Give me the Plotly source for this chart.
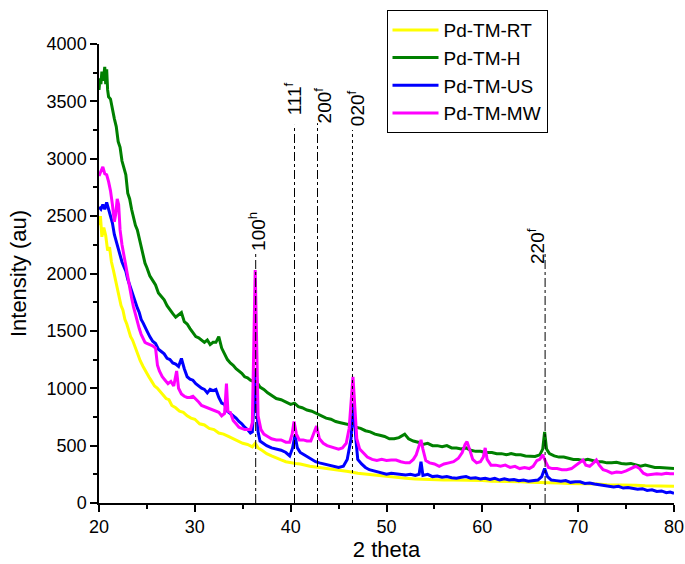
import plotly.graph_objects as go

# ---------------- data ----------------
rt_x = [20.0, 20.15, 20.3, 20.5, 20.7, 20.9, 21.1, 21.3, 21.5, 21.7, 21.9, 22.1, 22.3, 22.5, 22.7, 22.9,
        23.1, 23.3, 23.5, 23.7, 23.9, 24.1, 24.3, 24.6, 24.9, 25.2, 25.5, 25.8, 26.1, 26.4, 26.7, 27.0,
        27.3, 27.6, 28.0, 28.4, 28.8, 29.2, 29.6, 30.0, 30.5, 31.0, 31.5, 32.0, 32.5, 33.0, 33.5, 34.0,
        34.5, 35.0, 35.5, 36.0, 36.3, 36.6, 37.0, 37.5, 38.0, 38.5, 39.0, 39.5, 40.0, 40.5, 41.0, 41.5,
        42.0, 43.0, 44.0, 45.0, 46.0, 47.0, 48.0, 49.0, 50.0, 51.0, 52.0, 53.0, 54.0, 55.0, 56.0, 57.0,
        58.0, 59.0, 60.0, 61.0, 62.0, 63.0, 64.0, 65.0, 66.0, 67.0, 68.0, 69.0, 70.0, 71.0, 72.0, 73.0,
        74.0, 75.0, 76.0, 77.0, 78.0, 79.0, 80.0]
rt_y = [2420, 2500, 2320, 2400, 2330, 2200, 2230, 2100, 2030, 1950, 1870, 1800, 1720, 1680, 1600, 1560,
        1500, 1450, 1420, 1370, 1320, 1280, 1240, 1190, 1140, 1100, 1060, 1020, 1000, 970, 940, 910,
        900, 850, 830, 800, 790, 760, 740, 730, 690, 680, 650, 640, 610, 600, 580, 560,
        540, 520, 510, 490, 520, 480, 460, 430, 410, 390, 375, 360, 350, 345, 340, 330,
        320, 310, 300, 285, 275, 260, 250, 240, 230, 220, 215, 210, 205, 205, 200, 200,
        200, 195, 195, 190, 190, 185, 185, 180, 180, 175, 175, 170, 170, 165, 165, 160,
        160, 155, 155, 150, 150, 145, 145]

h_x = [20.0, 20.1, 20.2, 20.3, 20.45, 20.6, 20.7, 20.8, 20.9, 21.0, 21.2, 21.4, 21.6, 21.8, 22.0, 22.2,
       22.4, 22.6, 22.8, 23.0, 23.2, 23.4, 23.6, 23.8, 24.0, 24.2, 24.4, 24.6, 24.8, 25.0, 25.3, 25.6,
       25.9, 26.2, 26.5, 26.8, 27.1, 27.4, 27.7, 28.0, 28.3, 28.6, 28.9, 29.2, 29.5, 29.8, 30.1, 30.4,
       30.7, 31.0, 31.3, 31.6, 31.9, 32.2, 32.5, 32.8, 33.1, 33.4, 33.7, 34.0, 34.3, 34.6, 34.9, 35.2,
       35.5, 35.8, 36.1, 36.3, 36.5, 36.8, 37.2, 37.6, 38.0, 38.5, 39.0, 39.5, 40.0, 40.4, 40.8, 41.2,
       41.7, 42.2, 42.7, 43.2, 43.7, 44.2, 44.7, 45.2, 45.7, 46.2, 46.5, 46.8, 47.3, 47.8, 48.3, 48.8,
       49.3, 49.8, 50.3, 50.8, 51.3, 51.9, 52.3, 52.8, 53.3, 53.8, 54.3, 54.8, 55.3, 55.8, 56.3, 56.8,
       57.3, 57.8, 58.3, 58.8, 59.3, 59.8, 60.3, 61.0, 61.5, 62.0, 62.5, 63.0, 63.5, 64.0, 64.5, 65.0,
       65.5, 66.0, 66.3, 66.5, 66.7, 67.0, 67.5, 68.0, 68.5, 69.0, 69.5, 70.0, 70.5, 71.0, 71.5, 72.0,
       72.5, 73.0, 73.5, 74.0, 74.5, 75.0, 75.5, 76.0, 76.5, 77.0, 77.5, 78.0, 78.5, 79.0, 79.5, 80.0]
h_y = [3600, 3700, 3650, 3760, 3680, 3800, 3650, 3780, 3600, 3540, 3520, 3420, 3350, 3280, 3150, 3100,
       2980, 2920, 2860, 2700, 2650, 2560, 2480, 2420, 2380, 2300, 2240, 2160, 2090, 2050, 1980, 1940,
       1900, 1830, 1800, 1770, 1720, 1680, 1650, 1620, 1640, 1660, 1580, 1560, 1520, 1490, 1450, 1440,
       1420, 1400, 1420, 1380, 1400, 1400, 1450, 1350, 1300, 1250, 1220, 1200, 1170, 1150, 1130, 1100,
       1090, 1070, 1060, 1170, 1050, 1010, 990, 960, 940, 910, 900, 880, 860, 870, 840, 830,
       810, 800, 780, 760, 740, 730, 710, 700, 690, 680, 700, 660, 650, 630, 620, 600,
       590, 580, 560, 560, 570, 600, 560, 540, 530, 510, 520, 500, 500, 490, 500, 480,
       480, 470, 480, 460, 450, 450, 440, 440, 430, 430, 420, 430, 420, 420, 410, 410,
       405, 420, 470, 620, 470, 430, 410, 400, 400, 390, 380, 380, 370, 380, 370, 360,
       360, 350, 350, 355, 345, 340, 345, 330, 320, 330, 320, 310, 310, 305, 300, 300]

us_x = [20.0, 20.2, 20.4, 20.6, 20.8, 21.0, 21.2, 21.4, 21.6, 21.8, 22.0, 22.2, 22.4, 22.6, 22.8, 23.0,
        23.2, 23.4, 23.6, 23.8, 24.0, 24.2, 24.4, 24.6, 24.8, 25.0, 25.3, 25.6, 25.9, 26.2, 26.5, 26.8,
        27.1, 27.4, 27.7, 28.0, 28.3, 28.6, 28.9, 29.2, 29.5, 29.8, 30.1, 30.4, 30.7, 31.0, 31.3, 31.6,
        31.9, 32.2, 32.5, 32.8, 33.1, 33.4, 33.7, 34.0, 34.3, 34.6, 34.9, 35.2, 35.5, 35.8, 36.0, 36.15,
        36.3, 36.45, 36.6, 36.8, 37.1, 37.5, 38.0, 38.5, 39.0, 39.5, 39.9, 40.2, 40.45, 40.7, 41.0, 41.4,
        41.8, 42.2, 42.6, 43.0, 43.5, 44.0, 44.5, 45.0, 45.5, 45.9, 46.3, 46.55, 46.8, 47.0, 47.4, 47.8,
        48.2, 48.6, 49.0, 49.5, 50.0, 50.5, 51.0, 51.5, 52.0, 52.5, 53.0, 53.4, 53.6, 53.8, 54.3, 54.8,
        55.3, 55.8, 56.3, 56.8, 57.3, 57.8, 58.3, 58.8, 59.3, 59.8, 60.3, 60.8, 61.3, 61.8, 62.3, 62.8,
        63.3, 63.8, 64.3, 64.8, 65.3, 65.8, 66.2, 66.5, 66.8, 67.2, 67.7, 68.2, 68.7, 69.2, 69.7, 70.2,
        70.7, 71.2, 71.7, 72.2, 72.7, 73.2, 73.7, 74.2, 74.7, 75.2, 75.7, 76.2, 76.7, 77.2, 77.7, 78.2,
        78.7, 79.2, 79.6, 80.0]
us_y = [2580, 2560, 2600, 2560, 2620, 2560, 2500, 2440, 2340, 2280, 2220, 2150, 2100, 2060, 2020, 1950,
        1900, 1840, 1780, 1740, 1700, 1660, 1600, 1570, 1540, 1500, 1450, 1410, 1390, 1340, 1320, 1300,
        1260, 1250, 1220, 1210, 1190, 1260, 1170, 1100, 1080, 1070, 1040, 1020, 1000, 990, 960, 990,
        980, 990, 920, 870, 860, 800, 780, 760, 740, 710, 690, 660, 640, 610, 620, 850,
        1150, 900, 620, 540, 520, 500, 480, 470, 460, 440, 410, 480, 590, 480, 440, 420,
        400, 380, 360, 350, 340, 330, 320, 310, 320, 380, 560, 870, 560, 380, 340, 310,
        290, 280, 270, 260, 250, 260, 255, 250, 245, 250, 240, 250, 360, 240, 250, 230,
        235, 225, 230, 220, 215, 225, 230, 215, 220, 210, 215, 205, 215, 200, 210, 200,
        205, 195, 200, 190, 195, 200, 230, 300, 230, 200, 195, 190, 195, 180, 185, 185,
        170, 175, 165, 160, 155, 150, 140, 145, 130, 135, 125, 120, 125, 110, 115, 100,
        105, 90, 95, 85]

mw_x = [20.0, 20.2, 20.4, 20.6, 20.8, 21.0, 21.2, 21.4, 21.6, 21.75, 21.9, 22.05, 22.2, 22.4, 22.6, 22.8,
        23.0, 23.2, 23.4, 23.6, 23.8, 24.0, 24.2, 24.4, 24.6, 24.8, 25.0, 25.3, 25.6, 25.9, 26.1, 26.3,
        26.6, 26.9, 27.2, 27.5, 27.8, 28.1, 28.3, 28.6, 28.9, 29.2, 29.5, 29.8, 30.1, 30.4, 30.7, 31.0,
        31.3, 31.6, 31.9, 32.2, 32.5, 32.8, 33.1, 33.3, 33.45, 33.7, 34.0, 34.3, 34.6, 34.9, 35.2, 35.5,
        35.8, 36.0, 36.15, 36.3, 36.45, 36.6, 36.9, 37.2, 37.6, 38.0, 38.5, 39.0, 39.5, 39.9, 40.15, 40.35,
        40.6, 40.9, 41.3, 41.7, 42.1, 42.4, 42.7, 43.0, 43.4, 43.8, 44.2, 44.6, 45.0, 45.4, 45.8, 46.1,
        46.35, 46.5, 46.65, 46.9, 47.2, 47.6, 48.0, 48.5, 49.0, 49.5, 50.0, 50.5, 51.0, 51.5, 52.0, 52.4,
        52.8, 53.1, 53.4, 53.6, 53.8, 54.1, 54.5, 55.0, 55.5, 56.0, 56.5, 57.0, 57.5, 57.9, 58.2, 58.4,
        58.7, 59.0, 59.4, 59.8, 60.1, 60.3, 60.5, 60.9, 61.4, 61.9, 62.4, 62.9, 63.4, 63.9, 64.4, 64.9,
        65.3, 65.7, 66.0, 66.3, 66.6, 66.9, 67.3, 67.8, 68.3, 68.8, 69.3, 69.8, 70.2, 70.5, 70.8, 71.2,
        71.6, 71.9, 72.2, 72.6, 73.0, 73.5, 74.0, 74.5, 75.0, 75.5, 76.0, 76.4, 76.8, 77.2, 77.7, 78.2,
        78.7, 79.2, 79.6, 80.0]
mw_y = [2850, 2900, 2930, 2870, 2860, 2800, 2720, 2600, 2450, 2520, 2650, 2600, 2380, 2250, 2150, 2070,
        1950, 1870, 1790, 1710, 1640, 1580, 1520, 1470, 1430, 1400, 1390, 1380, 1370, 1350, 1200, 1150,
        1100, 1070, 1040, 1060, 1020, 1150, 1000, 950, 930, 920, 920, 930, 900, 880, 850, 840,
        830, 820, 810, 800, 790, 760, 780, 1040, 800, 790, 720, 690, 660, 650, 640, 640,
        640, 700, 1400, 2030, 1400, 760, 640, 600, 580, 560, 550, 550, 530, 530, 600, 710,
        600, 550, 550, 540, 540, 600, 670, 560, 520, 500, 490, 480, 470, 480, 520, 650,
        950, 1100, 900, 560, 470, 430, 400, 380, 370, 380, 370, 375, 375, 360, 350, 350,
        380, 420, 500, 550, 470, 370, 350, 340, 320, 340, 350, 360, 390, 440, 510, 535,
        460, 380, 350, 360, 400, 480, 380, 330, 330, 320, 330, 310, 320, 300, 310, 300,
        320, 370, 380, 420, 360, 310, 300, 300, 290, 290, 300, 330, 360, 375, 330, 320,
        350, 375, 330, 290, 280, 260, 270, 265, 280, 300, 320, 300, 260, 245, 250, 255,
        250, 260, 255, 255]

series_names = ["Pd-TM-RT", "Pd-TM-H", "Pd-TM-US", "Pd-TM-MW"]
series_colors = ["#ffff00", "#008000", "#0000ff", "#ff00ff"]

peak_pos = [36.35, 40.4, 42.8, 46.45, 66.55]
peak_tops = [2180, 3295, 3310, 3250, 2185]
label_bottoms = [2190, 3365, 3295, 3275, 2075]
peak_labels = ["100<sup>h</sup>", "111<sup>f</sup>", "200<sup>f</sup>", "020<sup>f</sup>", "220<sup>f</sup>"]
peak_dash = ["dashdot", "dashdot", "dashdot", "dot", "dashdot"]
label_shift = [2, -1.5, 5, 3.5, -9]  # px offset of label from its line

x_ticks = [20, 30, 40, 50, 60, 70, 80]
y_ticks = [0, 500, 1000, 1500, 2000, 2500, 3000, 3500, 4000]

# ---------------- figure ----------------
FONT = "Liberation Sans, Arial, sans-serif"
fig = go.Figure()
for name, color, xs, ys in zip(series_names, series_colors,
                               [rt_x, h_x, us_x, mw_x], [rt_y, h_y, us_y, mw_y]):
    fig.add_trace(go.Scatter(x=xs, y=ys, mode="lines", name=name,
                             line=dict(color=color, width=3)))

for px, top, lb, lab, dash, sh in zip(peak_pos, peak_tops, label_bottoms, peak_labels,
                                      peak_dash, label_shift):
    fig.add_shape(type="line", x0=px, x1=px, y0=0, y1=top, xref="x", yref="y",
                  line=dict(color="black", width=1, dash=dash), layer="above")
    fig.add_annotation(x=px, y=lb, text=lab, textangle=-90, showarrow=False,
                       xanchor="center", yanchor="bottom", xshift=sh, yshift=0,
                       borderpad=0, font=dict(family=FONT, size=19, color="black"))

fig.update_layout(
    width=685, height=564,
    margin=dict(l=98.5, r=10.5, t=44, b=61, autoexpand=False),
    paper_bgcolor="white", plot_bgcolor="white",
    font=dict(family=FONT, color="black", size=18),
    showlegend=True,
    legend=dict(x=0.50, y=1.074, xanchor="left", yanchor="top",
                bordercolor="black", borderwidth=1, bgcolor="white",
                font=dict(family=FONT, size=19, color="black"),
                tracegroupgap=0, itemwidth=46),
    xaxis=dict(range=[20, 80], tickvals=x_ticks, showline=True, linecolor="black", linewidth=1.5,
               ticks="outside", ticklen=7, tickwidth=1.5, tickcolor="black",
               minor=dict(dtick=5, ticks="outside", ticklen=4, tickwidth=1.5, tickcolor="black"),
               showgrid=False, zeroline=False, mirror=False, automargin=False,
               tickfont=dict(size=18), title=dict(text="2 theta", font=dict(size=22), standoff=5)),
    yaxis=dict(range=[0, 4000], tickvals=y_ticks, showline=True, linecolor="black", linewidth=1.5,
               ticks="outside", ticklen=7, tickwidth=1.5, tickcolor="black",
               minor=dict(dtick=250, ticks="outside", ticklen=4, tickwidth=1.5, tickcolor="black"),
               showgrid=False, zeroline=False, mirror=False, automargin=False,
               tickfont=dict(size=18), title=dict(text="Intensity (au)", font=dict(size=22), standoff=14)),
)

fig.write_html("out.html", config={"displayModeBar": False},
               post_script="document.body.style.margin='0';document.body.style.overflow='hidden';")
